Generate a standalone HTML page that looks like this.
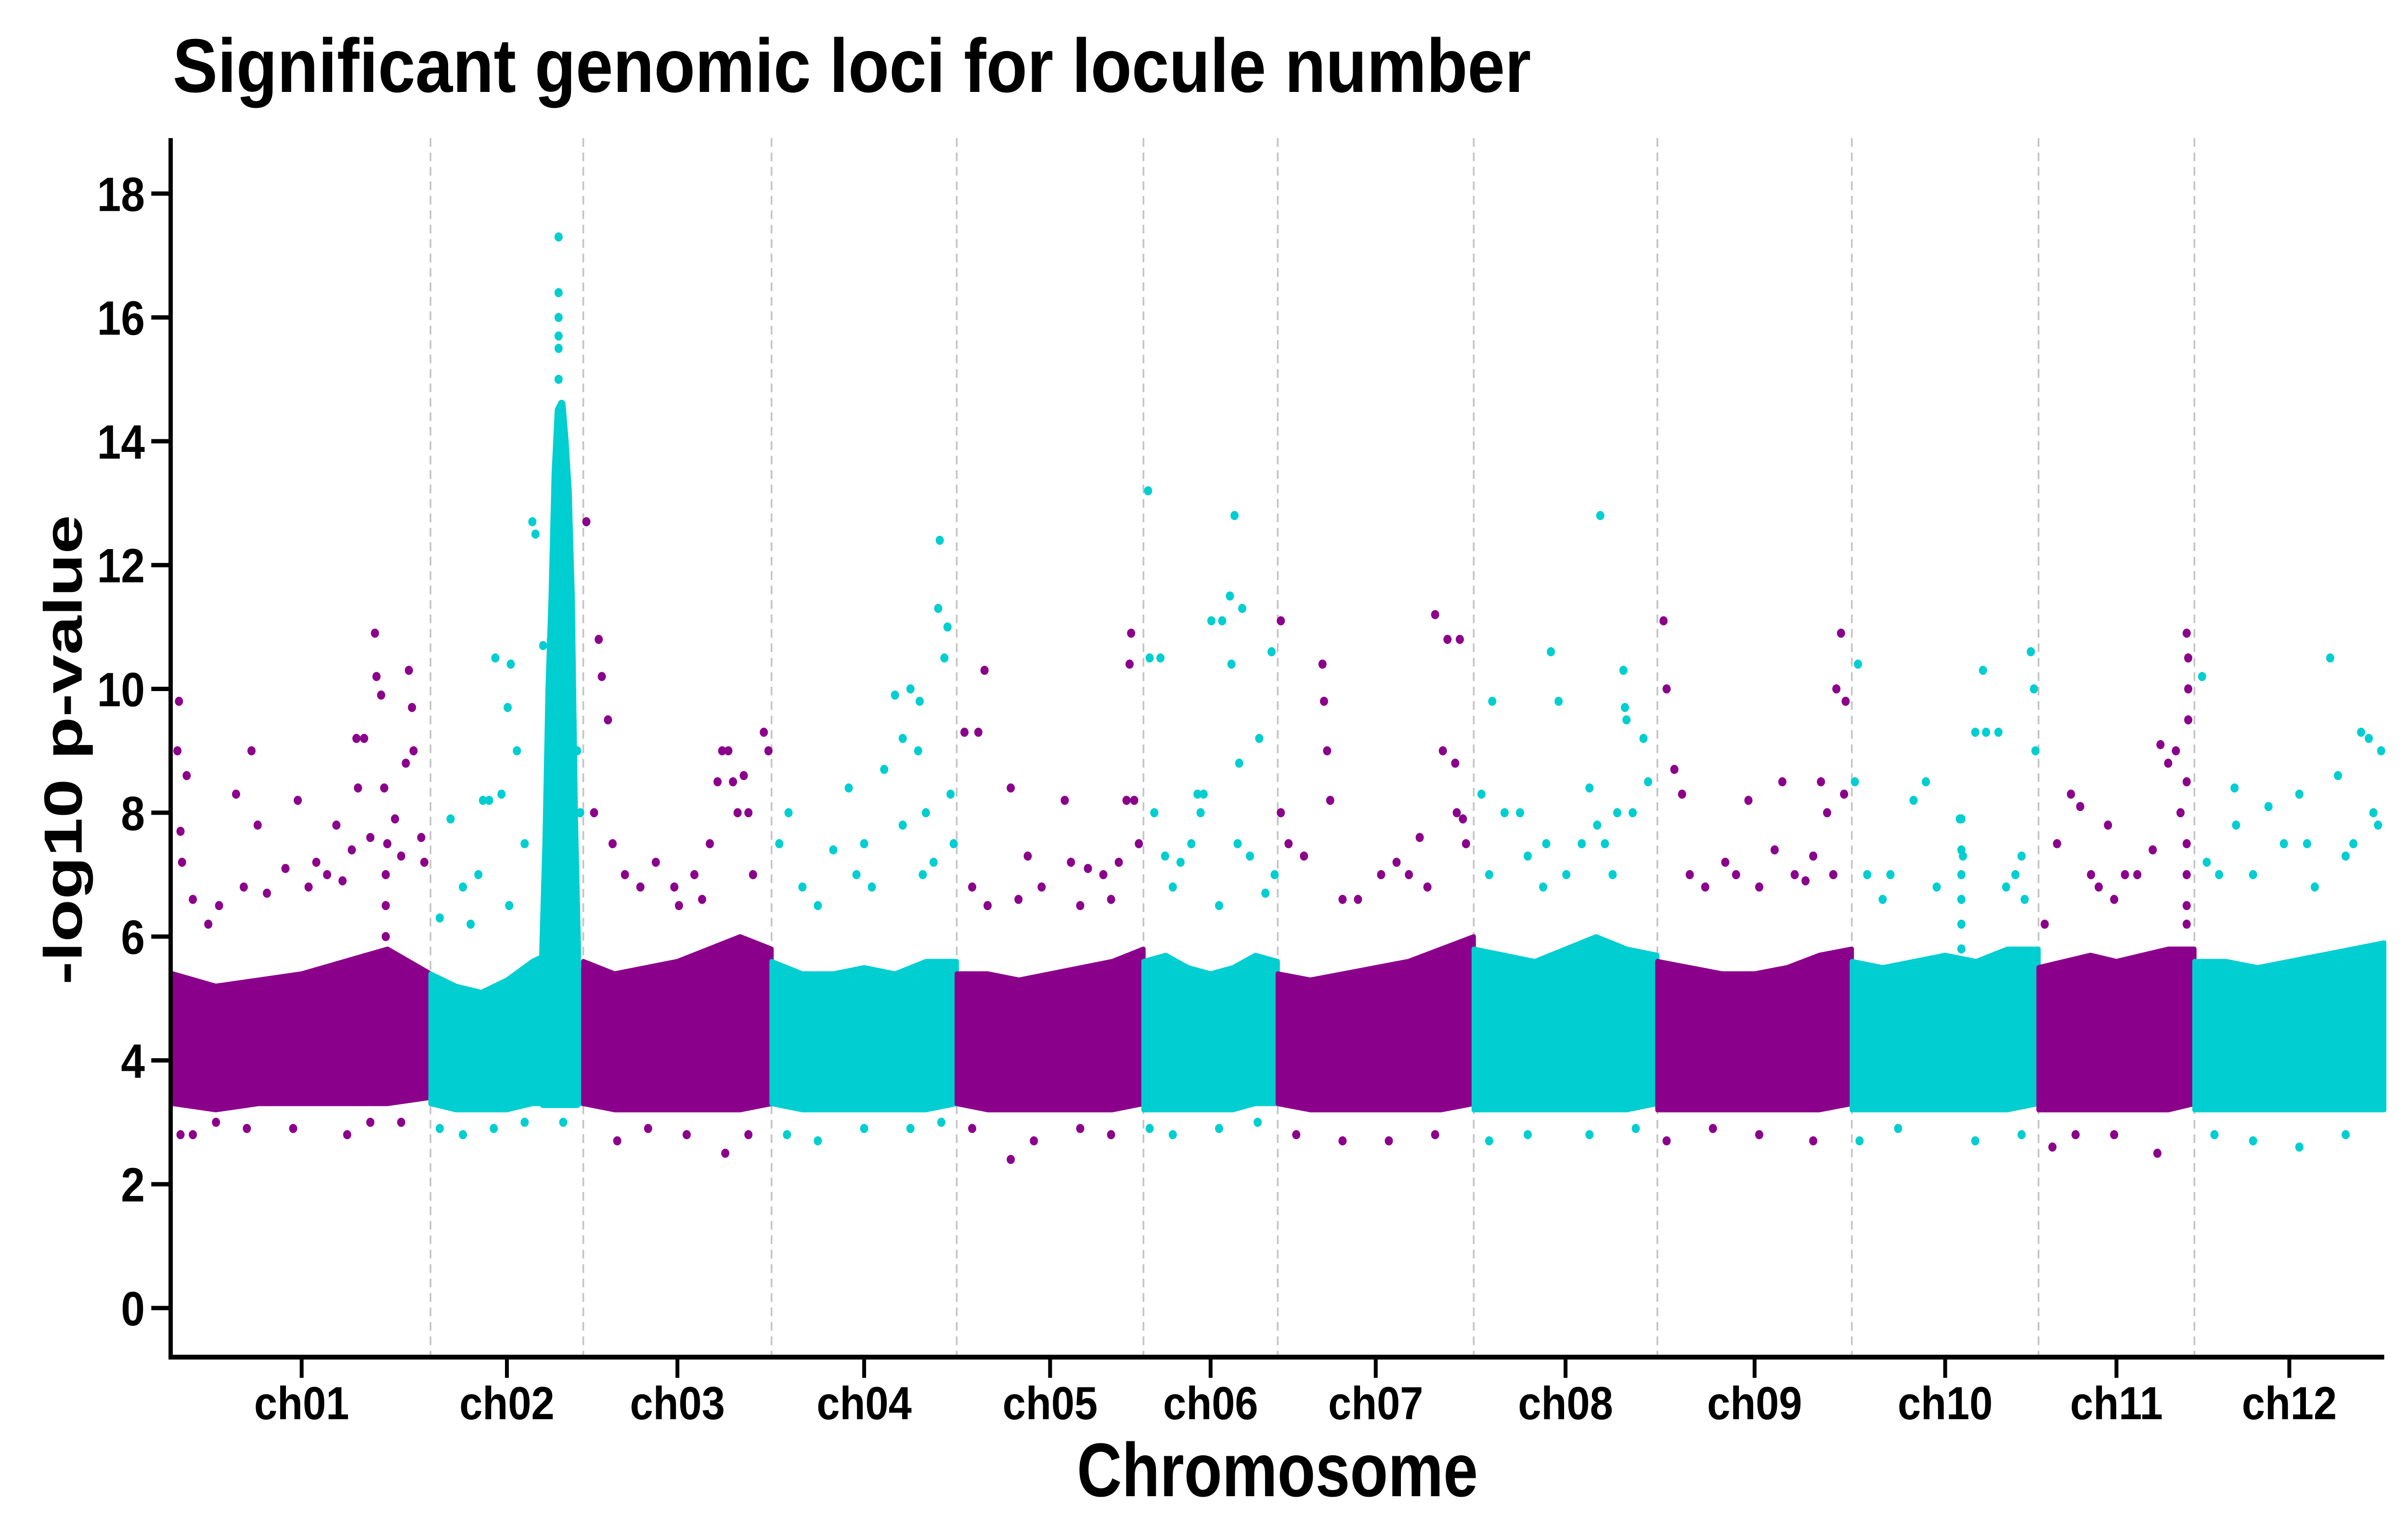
<!DOCTYPE html>
<html><head><meta charset="utf-8"><style>html,body{margin:0;padding:0;background:#fff;overflow:hidden}svg{display:block;width:100vw;height:100vh}</style></head>
<body>
<svg id="chart" xmlns="http://www.w3.org/2000/svg" viewBox="0 0 5600 3200" preserveAspectRatio="none">
<text x="402" y="191" font-family="Liberation Sans, sans-serif" font-weight="bold" font-size="158" textLength="3160" lengthAdjust="spacingAndGlyphs">Significant genomic loci for locule number</text>
<g id="grid"></g>
<g id="marks"></g>
<g id="axes"></g>
<text transform="translate(190,1558) rotate(-90)" text-anchor="middle" font-family="Liberation Sans, sans-serif" font-weight="bold" font-size="125" textLength="976" lengthAdjust="spacingAndGlyphs">-log10 p-value</text>
<text x="2972" y="3109" text-anchor="middle" font-family="Liberation Sans, sans-serif" font-weight="bold" font-size="158" textLength="933" lengthAdjust="spacingAndGlyphs">Chromosome</text>
</svg>
<script>
const chromNames = ["ch01","ch02","ch03","ch04","ch05","ch06","ch07","ch08","ch09","ch10","ch11","ch12"];
const chromBounds = [112,279,378,500,620,741,828,955,1074,1200,1321,1422,1545];
const yTicks = [0,2,4,6,8,10,12,14,16,18];
const bandTop = [
 [5.4,5.2,5.3,5.4,5.6,5.8,5.4],[5.4,5.2,5.1,5.3,5.6,5.8,5.4],[5.6,5.4,5.5,5.6,5.8,6.0,5.8],
 [5.6,5.4,5.4,5.5,5.4,5.6,5.6],[5.4,5.4,5.3,5.4,5.5,5.6,5.8],[5.6,5.7,5.5,5.4,5.5,5.7,5.6],
 [5.4,5.3,5.4,5.5,5.6,5.8,6.0],[5.8,5.7,5.6,5.8,6.0,5.8,5.7],[5.6,5.5,5.4,5.4,5.5,5.7,5.8],
 [5.6,5.5,5.6,5.7,5.6,5.8,5.8],[5.5,5.6,5.7,5.6,5.7,5.8,5.8],[5.6,5.6,5.5,5.6,5.7,5.8,5.9]];
const bandBottom = [
 [3.3,3.2,3.3,3.3,3.3,3.3,3.4],[3.3,3.2,3.2,3.2,3.3,3.3,3.3],[3.3,3.2,3.2,3.2,3.2,3.2,3.3],
 [3.3,3.2,3.2,3.2,3.2,3.2,3.3],[3.3,3.2,3.2,3.2,3.2,3.2,3.3],[3.2,3.2,3.2,3.2,3.2,3.3,3.3],
 [3.3,3.2,3.2,3.2,3.2,3.2,3.3],[3.2,3.2,3.2,3.2,3.2,3.2,3.3],[3.2,3.2,3.2,3.2,3.2,3.2,3.3],
 [3.2,3.2,3.2,3.2,3.2,3.2,3.3],[3.2,3.2,3.2,3.2,3.2,3.2,3.3],[3.2,3.2,3.2,3.2,3.2,3.2,3.2]];
const towerPos = [352,354,356,358,360,362,364,366,368,370,372,374];
const towerTop = [5.8,7.5,10,11.5,13.5,14.5,14.6,14,13.2,11.5,8,5.8];
const peakPos = [
116,115,117,121,118,125,135,142,153,158,163,167,173,185,193,200,205,212,218,222,231,236,240,243,244,247,249,251,250,256,260,263,265,267,268,273,275,232,228,250,250,117,125,140,160,190,225,240,260,
285,292,300,310,313,317,321,325,329,331,335,340,345,347,352,357,374,376,305,330,362,362,362,362,362,362,285,300,320,340,365,
380,388,390,394,385,397,405,415,425,437,450,460,465,468,472,475,478,482,485,488,495,498,455,440,400,420,445,470,485,
505,511,520,530,540,550,555,565,573,580,585,590,595,596,600,605,608,609,612,614,616,618,598,585,560,510,530,560,590,610,
625,634,638,630,640,655,660,666,675,690,694,705,715,725,730,735,732,733,738,720,700,630,655,670,700,720,
744,745,752,748,755,765,772,776,778,780,785,792,797,798,803,805,800,802,810,816,820,824,826,760,790,745,760,790,815,
830,830,835,845,857,858,860,862,870,880,895,905,913,920,930,935,938,943,944,946,948,950,925,840,870,900,930,
960,965,967,975,985,990,1002,1005,1010,1015,1025,1030,1035,1037,1040,1048,1052,1053,1054,1058,1065,1068,1045,1000,965,990,1030,1060,
1078,1080,1085,1090,1095,1105,1118,1125,1133,1140,1150,1155,1163,1170,1175,1180,1184,1188,1190,1193,1196,1195,1080,1110,1140,1175,
1204,1202,1210,1220,1225,1240,1248,1255,1270,1272,1280,1285,1287,1295,1300,1306,1310,1316,1318,1319,1312,1271,1271,1271,1271,1271,1271,1205,1230,1280,1310,
1325,1333,1342,1348,1355,1360,1366,1370,1377,1385,1395,1400,1405,1410,1413,1417,1418,1418,1418,1417,1417,1417,1417,1417,1330,1345,1370,1398,
1427,1430,1438,1448,1449,1460,1470,1480,1490,1495,1510,1515,1520,1525,1530,1535,1538,1541,1543,1500,1435,1460,1490,1520];
const peakVal = [
9.8,9.0,7.7,8.6,7.2,6.6,6.2,6.5,8.3,6.8,9.0,7.8,6.7,7.1,8.2,6.8,7.2,7.0,7.8,6.9,9.2,9.2,7.6,10.9,10.2,9.9,8.4,7.5,7.0,7.9,7.3,8.8,10.3,9.7,9.0,7.6,7.2,8.4,7.4,6.5,6.0,2.8,2.8,3.0,2.9,2.9,2.8,3.0,3.0,
6.3,7.9,6.8,7.0,8.2,8.2,10.5,8.3,9.7,10.4,9.0,7.5,12.7,12.5,10.7,10.8,9.0,8.0,6.2,6.5,17.3,16.4,16.0,15.7,15.5,15.0,2.9,2.8,2.9,3.0,3.0,
12.7,10.8,10.2,9.5,8.0,7.5,7.0,6.8,7.2,6.8,7.0,7.5,8.5,9.0,9.0,8.5,8.0,8.6,8.0,7.0,9.3,9.0,6.6,6.5,2.7,2.9,2.8,2.5,2.8,
7.5,8.0,6.8,6.5,7.4,8.4,7.0,6.8,8.7,9.9,9.2,10.0,9.0,9.8,8.0,7.2,11.3,12.4,10.5,11.0,8.3,7.5,7.0,7.8,7.5,2.8,2.7,2.9,2.9,3.0,
9.3,9.3,10.3,6.8,6.5,8.4,6.6,7.3,6.8,8.2,7.2,7.1,7.0,7.2,8.2,8.2,10.4,10.9,7.5,6.6,6.5,2.9,2.4,2.7,2.9,2.8,
13.2,10.5,10.5,8.0,7.3,7.2,7.5,8.3,8.0,8.3,11.1,11.1,11.5,10.4,8.8,11.3,12.8,7.5,7.3,9.2,6.7,10.6,7.0,6.8,6.5,2.9,2.8,2.9,3.0,
11.1,8.0,7.5,7.3,10.4,9.8,9.0,8.2,6.6,6.6,7.0,7.2,7.0,7.6,11.2,9.0,10.8,8.8,8.0,10.8,7.9,7.5,6.8,2.8,2.7,2.7,2.8,
8.3,7.0,9.8,8.0,8.0,7.3,7.5,10.6,9.8,7.0,7.5,8.4,7.8,12.8,7.5,8.0,10.3,9.7,9.5,8.0,9.2,8.5,7.0,6.8,2.7,2.8,2.8,2.9,
11.1,10.0,8.7,8.3,7.0,6.8,7.2,7.0,8.2,6.8,7.4,8.5,7.0,6.9,7.3,8.5,8.0,7.0,10.0,10.9,9.8,8.3,2.7,2.9,2.8,2.7,
10.4,8.5,7.0,6.6,7.0,8.2,8.5,6.8,7.9,7.3,9.3,10.3,9.3,9.3,6.8,7.0,7.3,10.6,10.0,9.0,6.6,5.8,6.2,6.6,7.0,7.4,7.9,2.7,2.9,2.7,2.8,
6.2,7.5,8.3,8.1,7.0,6.8,7.8,6.6,7.0,7.0,7.4,9.1,8.8,9.0,8.0,10.9,10.5,10.0,9.5,8.5,7.5,6.5,7.0,6.2,2.6,2.8,2.8,2.5,
10.2,7.2,7.0,8.4,7.8,7.0,8.1,7.5,8.3,7.5,10.5,8.6,7.3,7.5,9.3,9.2,8.0,7.8,9.0,6.8,2.8,2.7,2.6,2.8];

const NS = "http://www.w3.org/2000/svg";
const PX0 = 402, PX1 = 5547, PY0 = 2718, PERUNIT = 128.65;
const gMin = chromBounds[0], gMax = chromBounds[chromBounds.length-1];
function xScale(p){ return PX0 + (p - gMin) / (gMax - gMin) * (PX1 - PX0); }
function yScale(v){ return PY0 - v * PERUNIT; }
function colorFor(p){ let i=0; while(i<chromBounds.length-2 && p>=chromBounds[i+1]) i++; return i%2===0 ? "#8b008b" : "#00ced1"; }
function mk(tag, attrs, parent){ const e=document.createElementNS(NS,tag); for(const k in attrs) e.setAttribute(k, attrs[k]); parent.appendChild(e); return e; }

const grid=document.getElementById('grid'), marks=document.getElementById('marks'), axes=document.getElementById('axes');
for(let i=1;i<chromBounds.length-1;i++){
  const x=xScale(chromBounds[i]);
  const l=mk('line',{x1:x,x2:x,y1:287,y2:2815,stroke:'#c4c4c4','stroke-width':4,'stroke-dasharray':'18 12'},grid);
  
  
}
for(let c=0;c<chromNames.length;c++){
  const a=chromBounds[c], b=chromBounds[c+1], n=bandTop[c].length;
  const col = c%2===0 ? "#8b008b" : "#00ced1";
  let pts=[];
  for(let k=0;k<n;k++){ const p=a+(b-a)*k/(n-1); pts.push(xScale(p)+','+yScale(bandTop[c][k])); }
  for(let k=n-1;k>=0;k--){ const p=a+(b-a)*k/(n-1); pts.push(xScale(p)+','+yScale(bandBottom[c][k])); }
  const poly=mk('polygon',{points:pts.join(' '),fill:col,stroke:col,'stroke-width':10,'stroke-linejoin':'round'},marks);
  
  
}
{
  let pts=[];
  for(let k=0;k<towerPos.length;k++) pts.push(xScale(towerPos[k])+','+yScale(towerTop[k]));
  pts.push(xScale(towerPos[towerPos.length-1])+','+yScale(3.3));
  pts.push(xScale(towerPos[0])+','+yScale(3.3));
  const t=mk('polygon',{points:pts.join(' '),fill:'#00ced1',stroke:'#00ced1','stroke-width':18,'stroke-linejoin':'round'},marks);
  
  
}
for(let i=0;i<peakPos.length;i++){
  const d=mk('circle',{cx:xScale(peakPos[i]),cy:yScale(peakVal[i]),r:9.5,fill:colorFor(peakPos[i])},marks);
  
  
}
const ya=mk('line',{x1:397,x2:397,y1:287,y2:2825,stroke:'#000','stroke-width':10},axes);
 
const xa=mk('line',{x1:392,x2:PX1,y1:2820,y2:2820,stroke:'#000','stroke-width':10},axes);
 
for(const v of yTicks){
  const y=yScale(v);
  const t=mk('line',{x1:352,x2:397,y1:y,y2:y,stroke:'#000','stroke-width':9},axes);
   
  const lb=mk('text',{x:337,y:y+36,'text-anchor':'end','font-family':'Liberation Sans, sans-serif','font-weight':'bold','font-size':100},axes);
  lb.textContent=String(v);
   
}
for(let c=0;c<chromNames.length;c++){
  const x=xScale((chromBounds[c]+chromBounds[c+1])/2);
  const t=mk('line',{x1:x,x2:x,y1:2820,y2:2863,stroke:'#000','stroke-width':9},axes);
   
  const lb=mk('text',{x:x,y:2949,'text-anchor':'middle','font-family':'Liberation Sans, sans-serif','font-weight':'bold','font-size':97},axes);
  lb.textContent=chromNames[c];
   
}
</script>
</body></html>
